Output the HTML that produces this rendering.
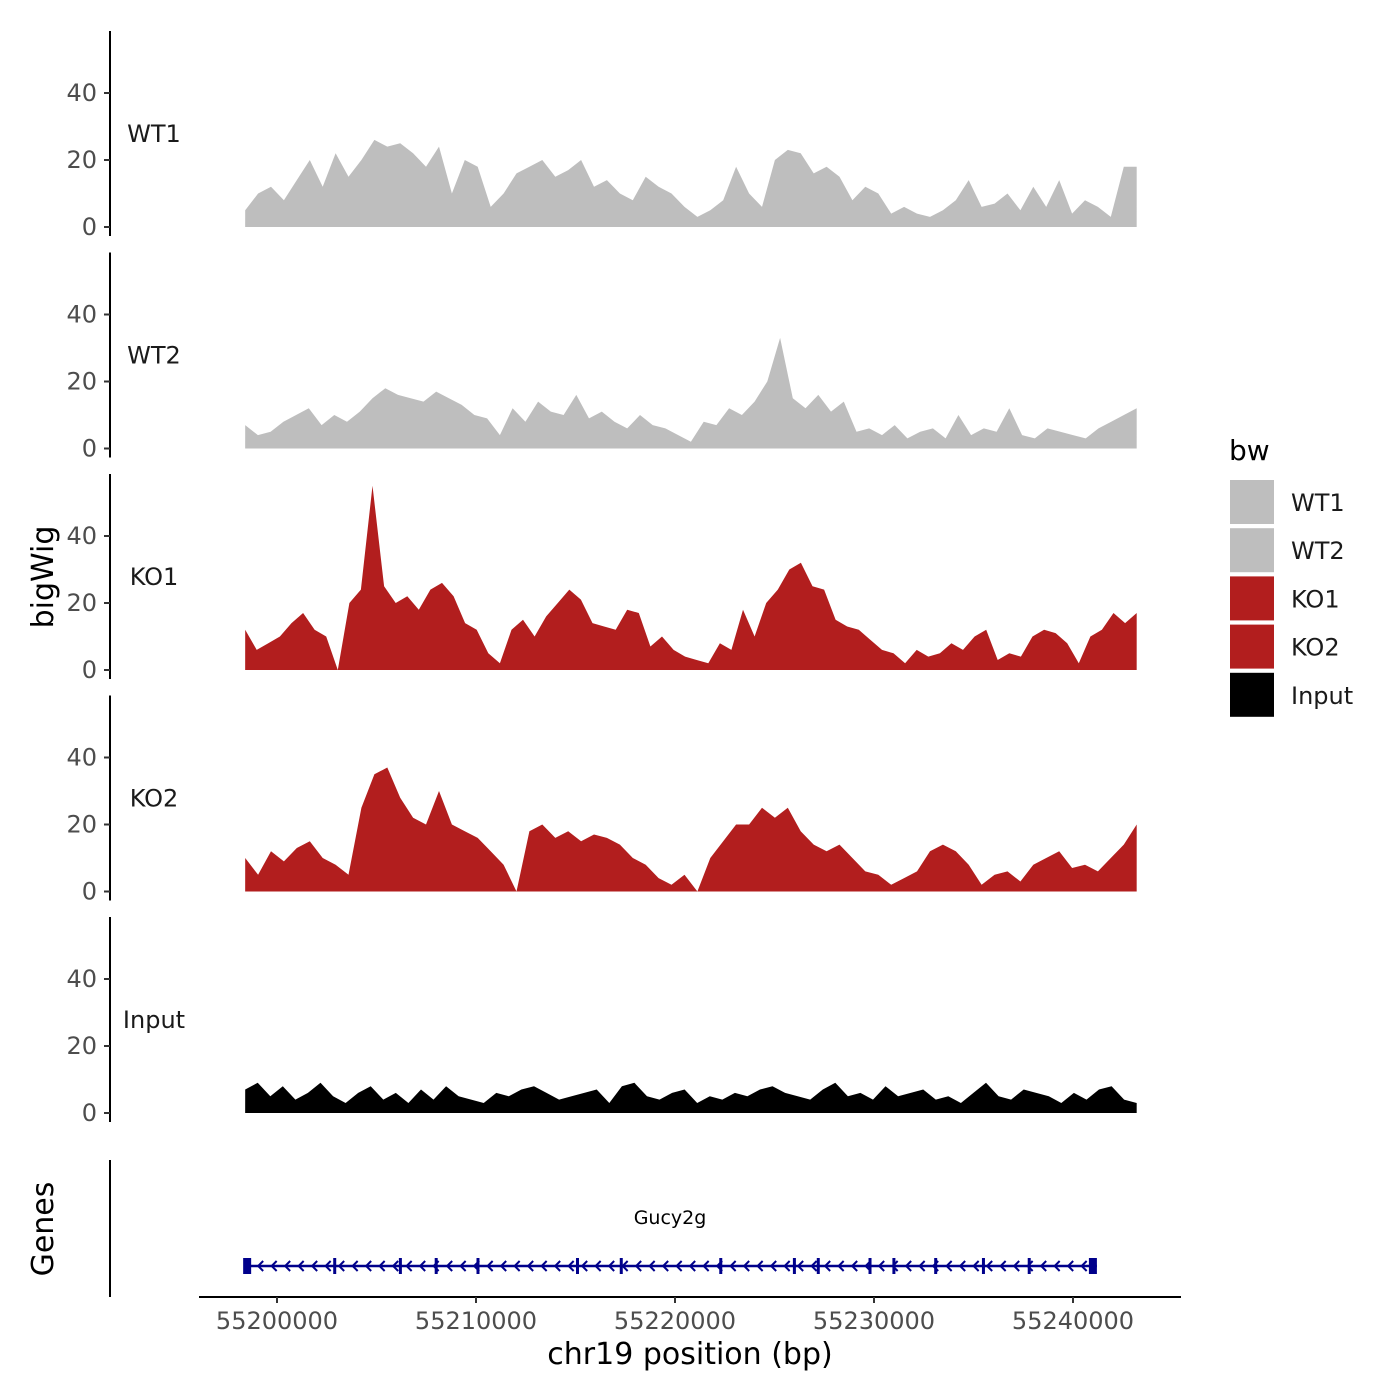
<!DOCTYPE html>
<html><head><meta charset="utf-8"><style>
body{margin:0;background:#fff}
svg{display:block;font-family:"DejaVu Sans","Liberation Sans",sans-serif}
</style></head><body>
<svg id="chart" width="1400" height="1400" viewBox="0 0 1400 1400">
<g id="panels"></g>
<g id="genes"></g>
<g id="legend"></g>
</svg>
<script>
const trackNames=["WT1","WT2","KO1","KO2","Input"];
const trackColors=["#bebebe","#bebebe","#b21e1e","#b21e1e","#000000"];
const yTicks=[0,20,40];
const xTicks=[55200000,55210000,55220000,55230000,55240000];
const dataStart=55198400, dataEnd=55243200;
const wt1=[5,10,12,8,14,20,12,22,15,20,26,24,25,22,18,24,10,20,18,6,10,16,18,20,15,17,20,12,14,10,8,15,12,10,6,3,5,8,18,10,6,20,23,22,16,18,15,8,12,10,4,6,4,3,5,8,14,6,7,10,5,12,6,14,4,8,6,3,18,18];
const wt2=[7,4,5,8,10,12,7,10,8,11,15,18,16,15,14,17,15,13,10,9,4,12,8,14,11,10,16,9,11,8,6,10,7,6,4,2,8,7,12,10,14,20,33,15,12,16,11,14,5,6,4,7,3,5,6,3,10,4,6,5,12,4,3,6,5,4,3,6,8,10,12];
const ko1=[12,6,8,10,14,17,12,10,0,20,24,55,25,20,22,18,24,26,22,14,12,5,2,12,15,10,16,20,24,21,14,13,12,18,17,7,10,6,4,3,2,8,6,18,10,20,24,30,32,25,24,15,13,12,9,6,5,2,6,4,5,8,6,10,12,3,5,4,10,12,11,8,2,10,12,17,14,17];
const ko2=[10,5,12,9,13,15,10,8,5,25,35,37,28,22,20,30,20,18,16,12,8,0,18,20,16,18,15,17,16,14,10,8,4,2,5,0,10,15,20,20,25,22,25,18,14,12,14,10,6,5,2,4,6,12,14,12,8,2,5,6,3,8,10,12,7,8,6,10,14,20];
const input=[7,9,5,8,4,6,9,5,3,6,8,4,6,3,7,4,8,5,4,3,6,5,7,8,6,4,5,6,7,3,8,9,5,4,6,7,3,5,4,6,5,7,8,6,5,4,7,9,5,6,4,8,5,6,7,4,5,3,6,9,5,4,7,6,5,3,6,4,7,8,4,3];
const series=[wt1,wt2,ko1,ko2,input];
const geneStart=55198400, geneEnd=55241200;
const exons=[55198500,55202900,55206200,55208000,55210100,55215100,55217300,55222300,55226000,55227200,55229800,55231000,55233100,55235500,55237800,55241000];

const NS="http://www.w3.org/2000/svg";
const X=v=>277+(v-55200000)*(1073-277)/40000;
const PPU=3.35;
function mk(tag,attrs,parent,text){const e=document.createElementNS(NS,tag);for(const k in attrs)e.setAttribute(k,attrs[k]);if(text!==undefined)e.textContent=text;parent.appendChild(e);return e;}
const panels=document.getElementById('panels');
series.forEach((vals,k)=>{
  const z=227+221.5*k;
  const Y=v=>z-v*PPU;
  const g=mk('g',{},panels);
  
  
  const ax=mk('line',{x1:110,x2:110,y1:z-196,y2:z+9,stroke:'#000','stroke-width':2},g);
  
  
  yTicks.forEach(t=>{
    mk('line',{x1:104,x2:110,y1:Y(t),y2:Y(t),stroke:'#333','stroke-width':2},g);
    const tl=mk('text',{x:97,y:Y(t)+8,'text-anchor':'end','font-size':24,fill:'#4d4d4d'},g,String(t));
    
    
  });
  const lb=mk('text',{x:154,y:z-85,'text-anchor':'middle','font-size':24,fill:'#1a1a1a'},g,trackNames[k]);
  
  
  const n=vals.length;
  let d='M'+X(dataStart)+','+z;
  vals.forEach((v,i)=>{const bp=dataStart+(dataEnd-dataStart)*i/(n-1);d+=' L'+X(bp).toFixed(1)+','+Y(v).toFixed(1);});
  d+=' L'+X(dataEnd)+','+z+' Z';
  const a=mk('path',{d:d,fill:trackColors[k]},g);
  
  
});
const yt=mk('text',{x:0,y:0,transform:'translate(53,577) rotate(-90)','text-anchor':'middle','font-size':30,fill:'#000'},panels,'bigWig');


const gg=document.getElementById('genes');
const gt=mk('text',{x:0,y:0,transform:'translate(53,1229) rotate(-90)','text-anchor':'middle','font-size':30,fill:'#000'},gg,'Genes');


const gax=mk('line',{x1:110,x2:110,y1:1160,y2:1297,stroke:'#000','stroke-width':2},gg);


const gl=mk('line',{x1:X(geneStart),x2:X(geneEnd),y1:1266,y2:1266,stroke:'#00008b','stroke-width':2.5},gg);


for(let x=X(geneStart)+14;x<X(geneEnd)-6;x+=13.5){mk('path',{d:`M${x+4},${1261} L${x-1},${1266} L${x+4},${1271}`,fill:'none',stroke:'#00008b','stroke-width':2},gg);}
exons.forEach((e,i)=>{
  const w=(i===0||i===exons.length-1)?8:3;
  const r=mk('rect',{x:X(e)-w/2,y:1258,width:w,height:16,fill:'#00008b'},gg);
  
  
});
const gn=mk('text',{x:670,y:1224,'text-anchor':'middle','font-size':19,fill:'#000'},gg,'Gucy2g');


const xa=mk('line',{x1:199,x2:1181,y1:1297,y2:1297,stroke:'#000','stroke-width':2},gg);


xTicks.forEach(t=>{
  mk('line',{x1:X(t),x2:X(t),y1:1297,y2:1303,stroke:'#333','stroke-width':2},gg);
  const tl=mk('text',{x:X(t),y:1329,'text-anchor':'middle','font-size':24,fill:'#4d4d4d'},gg,String(t));
  
  
});
const xt=mk('text',{x:690,y:1364,'text-anchor':'middle','font-size':30,fill:'#000'},gg,'chr19 position (bp)');


const lg=document.getElementById('legend');
const lt=mk('text',{x:1229,y:460,'font-size':28,fill:'#000'},lg,'bw');


trackNames.forEach((nm,i)=>{
  const y=480+i*48.2;
  const r=mk('rect',{x:1230,y:y,width:44,height:44,fill:trackColors[i]},lg);
  
  
  const t=mk('text',{x:1291,y:y+31,'font-size':24,fill:'#1a1a1a'},lg,nm);
  
  
});
</script>
</body></html>
